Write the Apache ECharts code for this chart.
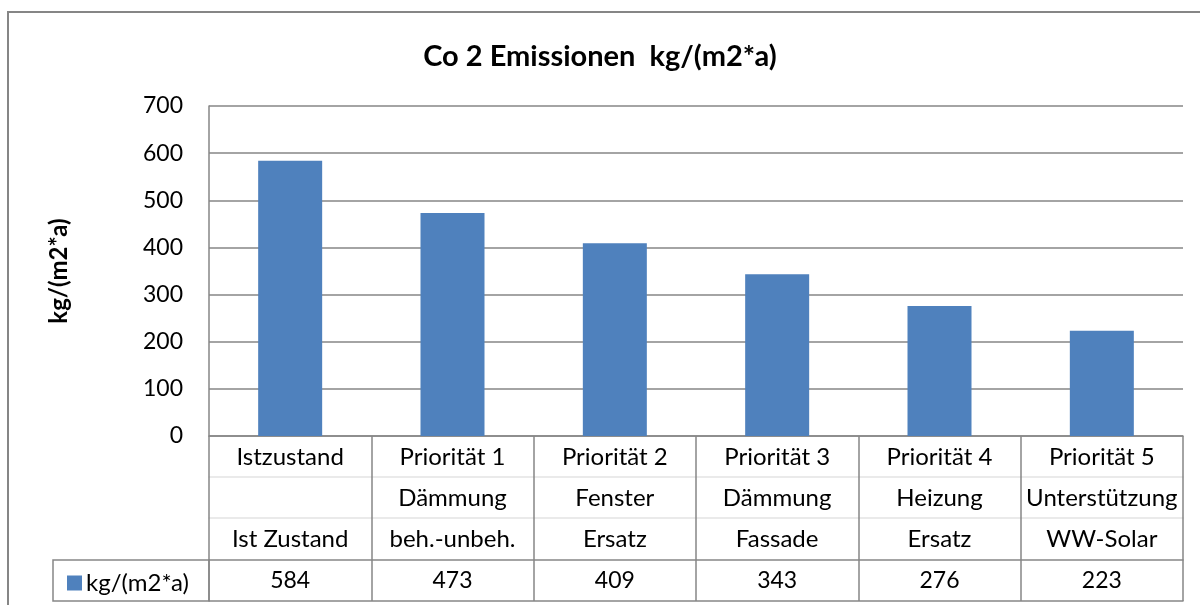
<!DOCTYPE html>
<html>
<head>
<meta charset="utf-8">
<script src="https://cdn.jsdelivr.net/npm/echarts@6/dist/echarts.min.js"></script>
<style>
  html, body { margin: 0; padding: 0; background: #fff; }
  #chart { width: 1200px; height: 605px; }
</style>
</head>
<body>
<div id="chart"></div>
<script>
// Daten
const categories = [
  'Istzustand\n\nIst Zustand',
  'Priorität 1\nDämmung\nbeh.-unbeh.',
  'Priorität 2\nFenster\nErsatz',
  'Priorität 3\nDämmung\nFassade',
  'Priorität 4\nHeizung\nErsatz',
  'Priorität 5\nUnterstützung\nWW-Solar'
]
const seriesName = 'kg/(m2*a)'
const emissions = [584, 473, 409, 343, 276, 223]
const yTicks = { min: 0, max: 700, interval: 100 }

const FONT = 'Lato, "Open Sans", sans-serif'
const LINE = '#868686'
const FAINT = '#e4e4e4'

const chart = echarts.init(document.getElementById('chart'))

// Tabellenlinien unter der Achse: Achsen mit Versatz
function tableAxis(offset, color, labels) {
  return {
    type: 'category',
    gridIndex: 0,
    position: 'bottom',
    offset: offset,
    data: labels || categories,
    axisLine: { show: true, lineStyle: { color: color, width: 1.5 } },
    axisTick: { show: false },
    axisLabel: labels ? {
      show: true, interval: 0, margin: 0, lineHeight: 41,
      fontSize: 23, color: '#000', fontFamily: FONT
    } : { show: false },
    splitLine: { show: false }
  }
}

chart.setOption({
  animation: false,
  title: {
    text: 'Co 2 Emissionen  kg/(m2*a)',
    left: 'center',
    top: 37,
    textStyle: { fontSize: 29, fontWeight: 'bold', color: '#000', fontFamily: FONT }
  },
  legend: {
    data: [seriesName],
    left: 62,
    top: 566,
    icon: 'rect',
    itemWidth: 15,
    itemHeight: 15,
    itemGap: 4,
    textStyle: { fontSize: 24, color: '#000', fontFamily: FONT, padding: [0, 0, 0, -1] }
  },
  grid: { left: 209, right: 17, top: 106, bottom: 169 },
  xAxis: [
    {
      type: 'category',
      data: categories,
      axisLine: { show: true, lineStyle: { color: LINE, width: 1.5 } },
      axisTick: { show: true, interval: 0, length: 165, lineStyle: { color: LINE, width: 1.5 } },
      axisLabel: {
        interval: 0, margin: 1, lineHeight: 41,
        fontSize: 24, color: '#000', fontFamily: FONT
      }
    },
    tableAxis(41, FAINT),
    tableAxis(82, FAINT),
    tableAxis(124, LINE, emissions.map(String)),
    tableAxis(165, LINE)
  ],
  yAxis: {
    type: 'value',
    min: yTicks.min,
    max: yTicks.max,
    interval: yTicks.interval,
    name: seriesName,
    nameLocation: 'middle',
    nameRotate: 90,
    nameGap: 138,
    nameTextStyle: { fontSize: 24, fontWeight: 'bold', color: '#000', fontFamily: FONT },
    axisLine: { show: true, lineStyle: { color: LINE, width: 1.5 } },
    axisTick: { show: false },
    axisLabel: { fontSize: 23, color: '#000', margin: 26, fontFamily: FONT },
    splitLine: { lineStyle: { color: LINE, width: 1.5 } }
  },
  series: [{
    name: seriesName,
    type: 'bar',
    data: emissions,
    barWidth: 64,
    itemStyle: { color: '#4f81bd' }
  }],
  graphic: [
    {
      type: 'rect', z: -1, silent: true,
      shape: { x: 8, y: 12, width: 1200, height: 610 },
      style: { fill: 'none', stroke: LINE, lineWidth: 2 }
    },
    {
      type: 'rect', silent: true,
      shape: { x: 53, y: 560, width: 156, height: 41 },
      style: { fill: 'none', stroke: LINE, lineWidth: 1.5 }
    }
  ]
})
</script>
</body>
</html>
